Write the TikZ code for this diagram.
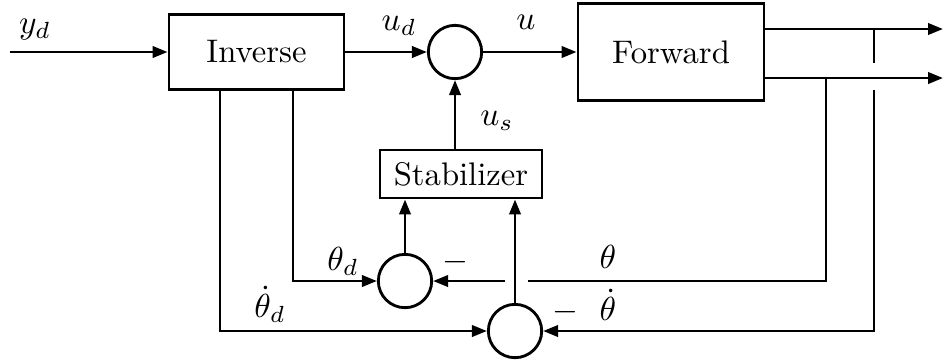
\documentclass[tikz,border=0pt]{standalone}
\usetikzlibrary{arrows.meta}
\begin{document}
\begin{tikzpicture}[x=0.3pt,y=-0.3pt,
  line width=0.85pt,
  blk/.style={draw, line width=0.85pt, inner sep=0, font=\fontsize{9.8}{12}\selectfont},
  sumc/.style={draw, circle, line width=0.85pt, inner sep=0, minimum size=16pt},
  arr/.style={-{Triangle[length=4.5pt,width=3.4pt]}},
  lbl/.style={inner sep=0.5pt, font=\fontsize{9.8}{12}\selectfont}]
\useasboundingbox (0,0) rectangle (944,360);
% blocks
\node[blk, minimum width=52.5pt, minimum height=22.3pt] (inv) at (256.5,52) {Inverse};
\node[blk, minimum width=55.8pt, minimum height=29.2pt] (fwd) at (671,52) {Forward};
\node[blk, minimum width=48.6pt, minimum height=14.4pt] (stab) at (461,174) {Stabilizer};
% summing junctions
\node[sumc] (s1) at (455,52) {};
\node[sumc] (s2) at (405,281) {};
\node[sumc] (s3) at (515,331) {};
% free ends
\coordinate (in) at (10,52);
\coordinate (o1) at (943,29);
\coordinate (o2) at (943,78);
\coordinate (f1) at (765,29);
\coordinate (f2) at (765,78);
\coordinate (g1a) at (874,63);
\coordinate (g1b) at (874,90);
\coordinate (g2a) at (528,281);
\coordinate (g2b) at (505,281);
% forward path
\draw[arr] (in) -- (inv.west);
\draw[arr] (inv.east) -- (s1.west);
\draw[arr] (s1.east) -- (fwd.west);
\draw[arr] (f1) -- (o1);
\draw[arr] (f2) -- (o2);
\draw[arr] (stab.north -| s1) -- (s1.south);
% stabilizer inputs
\draw[arr] (s2.north) -- (s2.north |- stab.south);
\draw[arr] (s3.north) -- (s3.north |- stab.south);
% inverse outputs
\draw[arr] (inv.south -| 293,0) |- (s2.west);
\draw[arr] (inv.south -| 220,0) |- (s3.west);
% theta feedback
\draw (826,78) |- (g2a);
\draw[arr] (g2b) -- (s2.east);
% theta dot feedback
\draw (874,29) -- (g1a);
\draw[arr] (g1b) |- (s3.east);
% labels
\node[lbl] (ly) at (35,30) {$y_d$};
\node[lbl] (lud) at (399,26) {$u_d$};
\node[lbl] (lu) at (526,22) {$u$};
\node[lbl] (lus) at (497,121) {$u_s$};
\node[lbl] (ltd) at (343,261) {$\theta_d$};
\node[lbl] (ltdd) at (270,304) {$\dot\theta_d$};
\node[lbl] (lm1) at (455,262) {$-$};
\node[lbl] (lm2) at (565,312) {$-$};
\node[lbl] (lt) at (608,257) {$\theta$};
\node[lbl] (ltt) at (608,305) {$\dot\theta$};
\end{tikzpicture}
\end{document}
